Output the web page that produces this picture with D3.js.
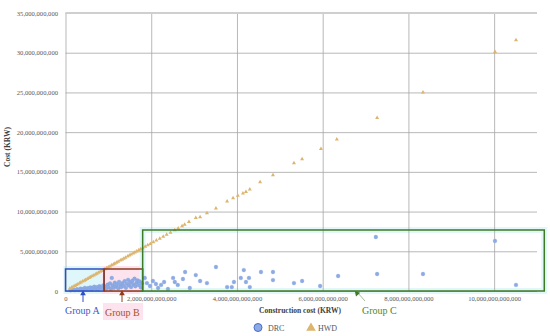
<!DOCTYPE html>
<html>
<head>
<title>DRC vs HWD cost</title>
<script src="https://d3js.org/d3.v7.min.js"></script>
<style type="text/css">
  body { margin: 0; background: #fff; }
  svg text { font-family: "Liberation Serif", "DejaVu Serif", serif; }
  .tick text { fill: #595959; font-size: 6.6px; }
  .grid line { stroke: #a6a6a6; stroke-width: 0.8; }
  .grid path { display: none; }
</style>
<script type="text/javascript">

// construction cost (trillion KRW) and cost (billion KRW)
var drcX = [0.12,0.18,0.22,0.27,0.31,0.35,0.38,0.42,0.45,0.48,0.52,0.55,0.58,0.61,0.64,0.67,0.70,0.73,0.76,0.79,0.82,0.85,0.88,
  0.92,0.95,0.98,1.01,1.04,1.06,1.08,1.10,1.13,1.15,1.18,1.20,1.23,1.25,1.28,1.30,1.33,1.36,1.38,1.41,1.43,1.46,1.48,1.51,1.53,1.56,1.58,1.61,1.63,1.66,1.68,1.71,1.73,1.76,1.78,
  1.85,1.90,1.97,2.04,2.11,2.16,2.23,2.30,2.39,2.51,2.55,2.62,2.74,2.79,2.90,3.04,3.14,3.30,3.51,3.77,3.88,3.93,4.09,4.16,4.21,4.28,4.30,4.56,4.84,4.84,5.33,5.52,5.94,6.36,7.24,7.27,8.34,10.02,10.51];
var drcY = [0.08,0.15,0.10,0.22,0.12,0.30,0.18,0.25,0.40,0.15,0.35,0.28,0.45,0.20,0.38,0.55,0.30,0.48,0.25,0.60,0.42,0.35,0.70,
  0.55,0.30,0.80,0.45,0.95,0.25,1.64,0.70,0.40,1.05,0.60,0.85,0.35,1.15,0.75,0.50,1.00,0.65,1.25,0.40,0.90,1.40,0.70,1.10,0.50,1.30,0.85,1.55,0.60,1.05,1.35,0.75,1.20,0.45,0.95,
  1.64,1.00,0.63,1.26,0.88,0.38,0.76,1.13,0.25,1.64,1.13,0.76,1.51,2.39,0.38,2.01,1.26,1.00,3.02,0.50,0.50,1.13,1.64,2.64,1.13,1.64,0.50,2.39,2.39,1.38,1.00,1.26,0.63,1.89,6.80,2.14,2.14,6.30,0.76];

var hwdX = [0.10,0.14,0.18,0.22,0.25,0.29,0.33,0.36,0.40,0.44,0.47,0.51,0.55,0.58,0.62,0.66,0.70,0.73,0.77,0.81,0.85,0.88,
  0.92,0.96,1.00,1.04,1.08,1.12,1.15,1.19,1.23,1.28,1.32,1.36,1.40,1.45,1.49,1.53,1.58,1.62,1.66,1.71,1.75,1.80,
  1.86,1.92,1.98,2.05,2.12,2.20,2.28,2.36,2.45,2.55,2.63,2.72,2.78,2.88,3.04,3.14,3.30,3.51,3.77,3.91,4.02,4.14,4.21,4.30,
  4.54,4.84,5.33,5.52,5.96,6.33,7.27,8.34,10.02,10.51];
var hwdY = [0.30,0.42,0.55,0.66,0.76,0.88,0.99,1.09,1.21,1.32,1.42,1.53,1.66,1.75,1.87,1.98,2.11,2.20,2.32,2.44,2.55,2.65,
  2.77,2.89,3.01,3.12,3.25,3.37,3.46,3.58,3.70,3.85,3.97,4.09,4.21,4.36,4.48,4.60,4.75,4.87,4.99,5.14,5.26,5.41,
  5.59,5.77,5.95,6.16,6.37,6.61,6.85,7.09,7.36,7.66,7.90,8.18,8.35,8.70,9.20,9.30,9.80,10.40,11.30,11.70,12.00,12.30,12.50,12.80,
  13.70,14.60,16.10,16.60,17.90,19.10,21.80,25.00,30.10,31.60];

var xTicks = [0, 2e12, 4e12, 6e12, 8e12, 10e12];
var yTicks = [0, 5e9, 10e9, 15e9, 20e9, 25e9, 30e9, 35e9];

var seriesNames = ["DRC", "HWD"];
var groupNames = ["Group A", "Group B", "Group C"];
var groupX0 = [0, 0.9e12, 1.8e12];
var groupX1 = [0.9e12, 1.8e12, 11.17e12];
var groupY1 = [2.77e9, 2.77e9, 7.68e9];

function draw() {
  var svg = d3.select("body").append("svg")
      .attr("width", 550)
      .attr("height", 336);

  var x = d3.scaleLinear().domain([0, 11e12]).range([65.5, 537]);
  var y = d3.scaleLinear().domain([0, 35e9]).range([291, 13]);

  var fmt = d3.format(",.0f");
  var groupCol = ["#2f4fc2", "#8e3b1c", "#3f7a26"];
  var haloCol = ["#dff7fb", "#fde3ee", "#e2f7fa"];

  // soft highlight behind the group boxes (A and B filled, C only round the edge)
  svg.selectAll("rect.halo")
      .data(groupNames)
      .enter()
      .append("rect")
      .attr("class", "halo")
      .attr("x", function(d, i) { return x(groupX0[i]) - (i == 2 ? 0 : 2); })
      .attr("y", function(d, i) { return y(groupY1[i]) - (i == 2 ? 0 : 3); })
      .attr("width", function(d, i) { return x(groupX1[i]) - x(groupX0[i]) + (i == 2 ? 0 : 4); })
      .attr("height", function(d, i) { return y(0) - y(groupY1[i]) + (i == 2 ? 0 : 6); })
      .attr("fill", function(d, i) { return i == 2 ? "none" : haloCol[i]; })
      .attr("stroke", function(d, i) { return i == 2 ? haloCol[i] : "none"; })
      .attr("stroke-width", 6);

  // grid
  svg.append("g")
      .attr("class", "grid")
      .attr("transform", "translate(65.5,0)")
      .call(d3.axisLeft(y).tickValues(yTicks).tickSize(-471.5).tickFormat(""));
  svg.append("g")
      .attr("class", "grid")
      .attr("transform", "translate(0,291)")
      .call(d3.axisBottom(x).tickValues(xTicks).tickSize(-278).tickFormat(""))
      .selectAll("line").attr("stroke", "#8c8c8c");
  svg.append("line")
      .attr("x1", 65.5).attr("x2", 537)
      .attr("y1", y(35e9)).attr("y2", y(35e9))
      .attr("stroke", "#cfcfcf").attr("stroke-width", 2.2);

  // tick labels
  var yl = svg.append("g")
      .attr("transform", "translate(58,0)")
      .call(d3.axisLeft(y).tickValues(yTicks).tickSize(0).tickPadding(0).tickFormat(fmt));
  yl.select(".domain").remove();

  var xl = svg.append("g")
      .attr("transform", "translate(0,296)")
      .call(d3.axisBottom(x).tickValues(xTicks).tickSize(0).tickPadding(0).tickFormat(fmt));
  xl.select(".domain").remove();

  // points
  svg.selectAll("circle.drc")
      .data(drcX)
      .enter()
      .append("circle")
      .attr("class", "drc")
      .attr("cx", function(d) { return x(d * 1e12); })
      .attr("cy", function(d, i) { return y(drcY[i] * 1e9); })
      .attr("r", 1.9)
      .attr("fill", "#8cabe4")
      .attr("stroke", "#7c9cdc")
      .attr("stroke-width", 0.3);

  var tri = d3.symbol().type(d3.symbolTriangle).size(7);
  svg.selectAll("path.hwd")
      .data(hwdX)
      .enter()
      .append("path")
      .attr("class", "hwd")
      .attr("d", tri)
      .attr("transform", function(d, i) {
        return "translate(" + x(d * 1e12) + "," + y(hwdY[i] * 1e9) + ")";
      })
      .attr("fill", "#dcb56e");

  // group boxes
  svg.selectAll("rect.group")
      .data(groupNames)
      .enter()
      .append("rect")
      .attr("class", "group")
      .attr("x", function(d, i) { return x(groupX0[i]); })
      .attr("y", function(d, i) { return y(groupY1[i]); })
      .attr("width", function(d, i) { return x(groupX1[i]) - x(groupX0[i]); })
      .attr("height", function(d, i) { return y(0) - y(groupY1[i]); })
      .attr("fill", "none")
      .attr("stroke", function(d, i) { return groupCol[i]; })
      .attr("stroke-width", 1.5);

  // group labels and arrows
  var labX = [65, 105, 362];
  var labY = [314, 316, 314];
  svg.append("rect")
      .attr("x", 103).attr("y", 303)
      .attr("width", 40).attr("height", 17)
      .attr("fill", "#fde3ee");
  svg.selectAll("text.glab")
      .data(groupNames)
      .enter()
      .append("text")
      .attr("class", "glab")
      .attr("x", function(d, i) { return labX[i]; })
      .attr("y", function(d, i) { return labY[i]; })
      .attr("font-size", 10)
      .attr("fill", function(d, i) { return ["#3a5ac8", "#a4532a", "#4b8a2e"][i]; })
      .text(function(d) { return d; });

  var arr = [[83, 302, 83, 292], [122, 302, 122, 292], [365, 301, 357, 292]];
  svg.selectAll("line.arr")
      .data(arr)
      .enter()
      .append("line")
      .attr("class", "arr")
      .attr("x1", function(d) { return d[0]; })
      .attr("y1", function(d) { return d[1]; })
      .attr("x2", function(d) { return d[2]; })
      .attr("y2", function(d) { return d[3]; })
      .attr("stroke", function(d, i) { return i == 2 ? "#6a8a5a" : groupCol[i]; })
      .attr("stroke-width", function(d, i) { return i == 2 ? 0.6 : 1; });
  svg.selectAll("path.head")
      .data(arr)
      .enter()
      .append("path")
      .attr("class", "head")
      .attr("d", d3.symbol().type(d3.symbolTriangle).size(14))
      .attr("transform", function(d) {
        var a = Math.atan2(d[3] - d[1], d[2] - d[0]) * 180 / Math.PI + 90;
        return "translate(" + d[2] + "," + (d[3] + 1.5) + ") rotate(" + a + ")";
      })
      .attr("fill", function(d, i) { return groupCol[i]; });

  // axis titles
  svg.append("text")
      .attr("transform", "translate(10,147) rotate(-90)")
      .attr("text-anchor", "middle")
      .attr("font-size", 7.5)
      .attr("font-weight", "bold")
      .attr("fill", "#404040")
      .text("Cost (KRW)");
  svg.append("text")
      .attr("x", 300).attr("y", 313)
      .attr("text-anchor", "middle")
      .attr("font-size", 7.5)
      .attr("font-weight", "bold")
      .attr("fill", "#404040")
      .text("Construction cost (KRW)");

  // legend
  svg.append("circle")
      .attr("cx", 258).attr("cy", 327.5).attr("r", 4)
      .attr("fill", "#8cabe4").attr("stroke", "#4a6cc8").attr("stroke-width", 1);
  svg.append("path")
      .attr("d", d3.symbol().type(d3.symbolTriangle).size(40))
      .attr("transform", "translate(311,328)")
      .attr("fill", "#dcb56e");
  svg.selectAll("text.leg")
      .data(seriesNames)
      .enter()
      .append("text")
      .attr("class", "leg")
      .attr("x", function(d, i) { return [268, 318][i]; })
      .attr("y", 330.5)
      .attr("font-size", 8)
      .attr("fill", "#595959")
      .text(function(d) { return d; });
}

window.onload = draw;
</script>
</head>
<body>
</body>
</html>
